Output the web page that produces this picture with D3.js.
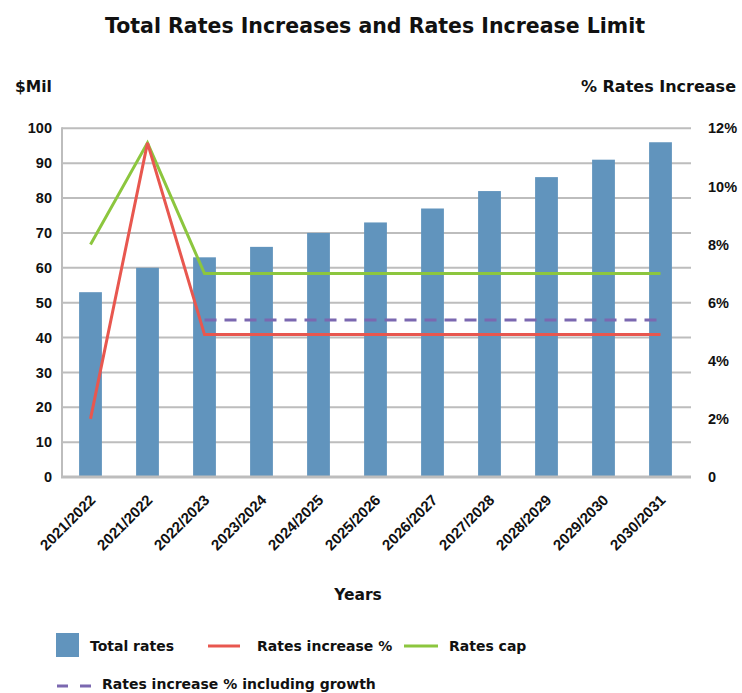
<!DOCTYPE html>
<html>
<head>
<meta charset="utf-8">
<script src="https://cdn.jsdelivr.net/npm/d3@7"></script>
<style>
  html, body { margin: 0; padding: 0; background: #fff; }
  svg { display: block; font-family: "DejaVu Sans", "Open Sans", sans-serif; font-weight: 700; }
</style>
</head>
<body>
<svg id="chart" width="742" height="693"></svg>
<script>
// Financial years (the first year appears twice in the source series)
const years = ["2021/2022", "2021/2022", "2022/2023", "2023/2024", "2024/2025",
               "2025/2026", "2026/2027", "2027/2028", "2028/2029", "2029/2030", "2030/2031"];

// Total rates, $ million
const totalRates = [53, 60, 63, 66, 70, 73, 77, 82, 86, 91, 96];

// Percentage series (right axis)
const ratesIncreasePct = [2, 11.5, 4.9, 4.9, 4.9, 4.9, 4.9, 4.9, 4.9, 4.9, 4.9];
const ratesCapPct = [8, 11.5, 7, 7, 7, 7, 7, 7, 7, 7, 7];
const ratesIncreaseGrowthPct = [null, null, 5.4, 5.4, 5.4, 5.4, 5.4, 5.4, 5.4, 5.4, 5.4];

// Axis ticks
const leftTicks = [0, 10, 20, 30, 40, 50, 60, 70, 80, 90, 100];
const rightTicks = [0, 2, 4, 6, 8, 10, 12];

const colors = {
  bar: "#6194bd",
  red: "#e8574f",
  green: "#8cc63e",
  purple: "#7b68b0",
  grid: "#bdbdbd",
  text: "#111111"
};

const svg = d3.select("#chart");

const plot = { left: 62, right: 689, top: 128.3, bottom: 477, gridRight: 691 };

const x = d3.scaleBand()
  .domain(d3.range(years.length))
  .range([plot.left, plot.right])
  .paddingInner(0.6)
  .paddingOuter(0.3);

const yLeft = d3.scaleLinear().domain([0, 100]).range([plot.bottom, plot.top]);
const yRight = d3.scaleLinear().domain([0, 12]).range([plot.bottom, plot.top]);

// Title
svg.append("text")
  .attr("x", 375).attr("y", 33)
  .attr("text-anchor", "middle")
  .attr("font-size", 20.5)
  .attr("fill", colors.text)
  .text("Total Rates Increases and Rates Increase Limit");

// Axis titles
svg.append("text").attr("x", 15).attr("y", 92)
  .attr("font-size", 15.5).attr("fill", colors.text).text("$Mil");
svg.append("text").attr("x", 736).attr("y", 92).attr("text-anchor", "end")
  .attr("font-size", 16).attr("fill", colors.text).text("% Rates Increase");
svg.append("text").attr("x", 358).attr("y", 600).attr("text-anchor", "middle")
  .attr("font-size", 15.5).attr("fill", colors.text).text("Years");

// Horizontal gridlines
svg.append("g")
  .selectAll("line")
  .data(leftTicks.slice(1))
  .join("line")
  .attr("x1", plot.left).attr("x2", plot.gridRight)
  .attr("y1", d => yLeft(d)).attr("y2", d => yLeft(d))
  .attr("stroke", colors.grid).attr("stroke-width", 2);

// Bars
svg.append("g")
  .selectAll("rect")
  .data(totalRates)
  .join("rect")
  .attr("x", (d, i) => x(i))
  .attr("width", x.bandwidth())
  .attr("y", d => yLeft(d))
  .attr("height", d => yLeft(0) - yLeft(d))
  .attr("fill", colors.bar);

// Axis lines
svg.append("line")
  .attr("x1", plot.left).attr("x2", plot.left)
  .attr("y1", plot.top - 1).attr("y2", plot.bottom)
  .attr("stroke", colors.grid).attr("stroke-width", 2);
svg.append("line")
  .attr("x1", plot.left - 1).attr("x2", plot.gridRight)
  .attr("y1", plot.bottom).attr("y2", plot.bottom)
  .attr("stroke", colors.grid).attr("stroke-width", 3);

// Left axis labels
const leftAxis = d3.axisLeft(yLeft).tickValues(leftTicks).tickSize(0).tickPadding(10);
const gl = svg.append("g").attr("transform", `translate(${plot.left},0)`).call(leftAxis);
gl.select(".domain").remove();
gl.selectAll("text").attr("font-size", 14.5).attr("font-family", null)
  .attr("fill", colors.text).attr("font-weight", 700);

// Right axis labels
const rightAxis = d3.axisRight(yRight).tickValues(rightTicks).tickSize(0).tickPadding(0)
  .tickFormat(d => d === 0 ? "0" : d + "%");
const gr = svg.append("g").attr("transform", "translate(708,0)").call(rightAxis);
gr.select(".domain").remove();
gr.selectAll("text").attr("font-size", 14.5).attr("font-family", null)
  .attr("fill", colors.text).attr("font-weight", 700);

// Category labels, rotated
const bottomAxis = d3.axisBottom(x).tickSize(0).tickFormat(i => years[i]);
const gb = svg.append("g").attr("transform", `translate(0,${plot.bottom})`).call(bottomAxis);
gb.select(".domain").remove();
gb.selectAll("text")
  .attr("font-size", 15).attr("font-family", null).attr("font-weight", 700)
  .attr("fill", colors.text)
  .attr("text-anchor", "end")
  .attr("dy", null).attr("y", null)
  .attr("transform", "translate(6,24) rotate(-45)");

// Percentage lines
const cx = i => x(i) + x.bandwidth() / 2;
const line = d3.line()
  .defined(d => d != null)
  .x((d, i) => cx(i))
  .y(d => yRight(d));

svg.append("path").datum(ratesCapPct)
  .attr("d", line).attr("fill", "none")
  .attr("stroke", colors.green).attr("stroke-width", 3);
svg.append("path").datum(ratesIncreasePct)
  .attr("d", line).attr("fill", "none")
  .attr("stroke", colors.red).attr("stroke-width", 3);
svg.append("path").datum(ratesIncreaseGrowthPct)
  .attr("d", line).attr("fill", "none")
  .attr("stroke", colors.purple).attr("stroke-width", 3)
  .attr("stroke-dasharray", "12,8");

// Legend
const legend = svg.append("g").attr("font-size", 14).attr("fill", colors.text);
legend.append("rect").attr("x", 56).attr("y", 633).attr("width", 23).attr("height", 24).attr("fill", colors.bar);
legend.append("text").attr("x", 90).attr("y", 651).text("Total rates");
legend.append("line").attr("x1", 208).attr("x2", 240).attr("y1", 646).attr("y2", 646)
  .attr("stroke", colors.red).attr("stroke-width", 3);
legend.append("text").attr("x", 257).attr("y", 651).text("Rates increase %");
legend.append("line").attr("x1", 404).attr("x2", 438).attr("y1", 646).attr("y2", 646)
  .attr("stroke", colors.green).attr("stroke-width", 3);
legend.append("text").attr("x", 449).attr("y", 651).text("Rates cap");
legend.append("line").attr("x1", 57).attr("x2", 91).attr("y1", 686).attr("y2", 686)
  .attr("stroke", colors.purple).attr("stroke-width", 3).attr("stroke-dasharray", "11,12");
legend.append("text").attr("x", 102).attr("y", 689).text("Rates increase % including growth");
</script>
</body>
</html>
